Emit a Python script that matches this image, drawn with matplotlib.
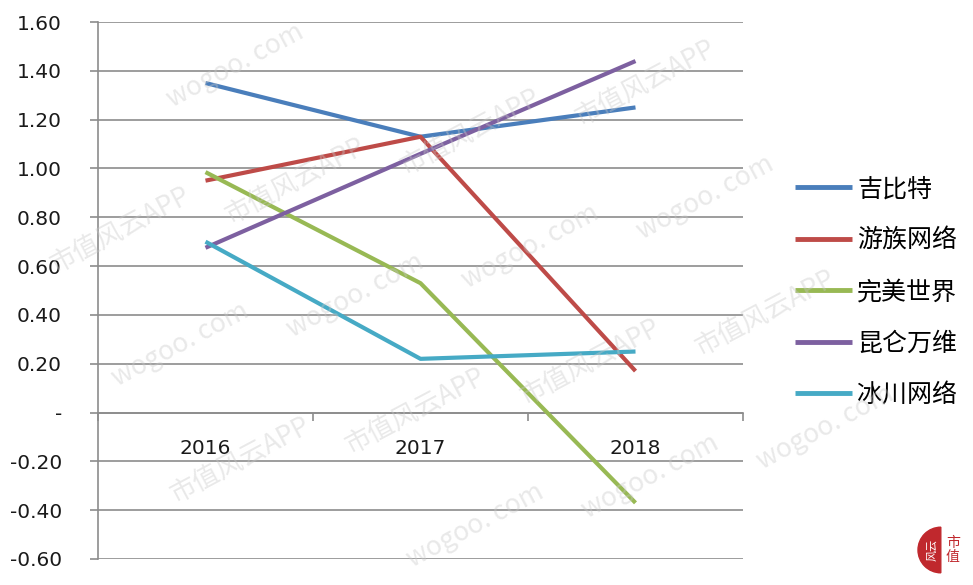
import matplotlib
matplotlib.use("Agg")
import matplotlib.pyplot as plt
from matplotlib.patches import Wedge

plt.rcParams["font.family"] = ["Noto Sans CJK SC", "DejaVu Sans"]

years = ["2016", "2017", "2018"]
names = ["吉比特", "游族网络", "完美世界", "昆仑万维", "冰川网络"]
jibite = [1.35, 1.13, 1.25]
youzu = [0.95, 1.13, 0.17]
wanmei = [0.985, 0.53, -0.37]
kunlun = [0.675, 1.06, 1.44]
bingchuan = [0.70, 0.22, 0.25]
series = [jibite, youzu, wanmei, kunlun, bingchuan]
colors = ["#4a7ebb", "#be4b48", "#98b954", "#7d60a0", "#46aac5"]

yticks = [-0.6, -0.4, -0.2, 0.0, 0.2, 0.4, 0.6, 0.8, 1.0, 1.2, 1.4, 1.6]
ytick_labels = ["-0.60", "-0.40", "-0.20", "-", "0.20", "0.40", "0.60",
                "0.80", "1.00", "1.20", "1.40", "1.60"]

fig = plt.figure(figsize=(9.73, 5.85), dpi=100)
ax = fig.add_axes([98 / 973, 1 - 559 / 585, (743 - 98) / 973, (559 - 22) / 585])

x = list(range(len(years)))
for vals, name, c in zip(series, names, colors):
    ax.plot(x, vals, color=c, linewidth=3, label=name, solid_capstyle="butt", zorder=3)

ax.set_xlim(-0.5, 2.5)
ax.set_ylim(-0.6, 1.6)
ax.set_yticks(yticks)
ax.set_yticklabels(ytick_labels, fontsize=14.5, family="DejaVu Sans", color="#1a1a1a")
ax.grid(axis="y", color="#8c8c8c", linewidth=1.2, zorder=1)
ax.tick_params(axis="y", length=6, width=1.2, color="#8c8c8c", pad=20)

# category axis sits on the zero line
ax.spines["bottom"].set_position(("data", 0))
ax.spines["bottom"].set_color("#8c8c8c")
ax.spines["bottom"].set_linewidth(1.2)
ax.spines["left"].set_color("#8c8c8c")
ax.spines["left"].set_linewidth(1.2)
ax.spines["top"].set_visible(False)
ax.spines["right"].set_visible(False)
ax.set_xticks([-0.5, 0.5, 1.5, 2.5])
ax.set_xticklabels([])
ax.set_xticks(x, minor=True)
ax.set_xticklabels(years, minor=True, fontsize=14.5, family="DejaVu Sans", color="#1a1a1a")
ax.tick_params(axis="x", which="major", length=6, width=1.2, color="#8c8c8c")
ax.tick_params(axis="x", which="minor", length=0, pad=19)

leg = ax.legend(loc="center left", bbox_to_anchor=(1.045, 0.497), frameon=False,
                fontsize=18, handlelength=2.3, handletextpad=0.2, labelspacing=1.02)
for line in leg.get_lines():
    line.set_linewidth(3.5)

# watermark, kept inside the picture
marks = ["市值风云APP", "wogoo. com"]
for row in range(-4, 8):
    for col in range(-1, 8):
        px = col * 235 + row * 60
        py = row * 115 + col * 120 * 0.55
        if 80 < px < 880 and 45 < py < 535:
            fig.text(px / 973, 1 - py / 585, marks[(row + col) % 2], rotation=28,
                     fontsize=19, color="#c8c8c8", alpha=0.4, ha="center",
                     va="center", zorder=10)

# logo in the corner
logo_ax = fig.add_axes([912 / 973, 1 - 580 / 585, 60 / 973, 60 / 585])
logo_ax.set_xlim(0, 1)
logo_ax.set_ylim(0, 1)
logo_ax.axis("off")
logo_ax.add_patch(Wedge((0.48, 0.5), 0.38, 90, 270, color="#c0282d"))
logo_ax.text(0.33, 0.5, "风云", fontsize=8, color="white", rotation=90, ha="center", va="center")
logo_ax.text(0.68, 0.5, "市\n值", fontsize=10, color="#c0282d", ha="center", va="center",
             linespacing=1.0)

fig.savefig("out.png", dpi=100)
